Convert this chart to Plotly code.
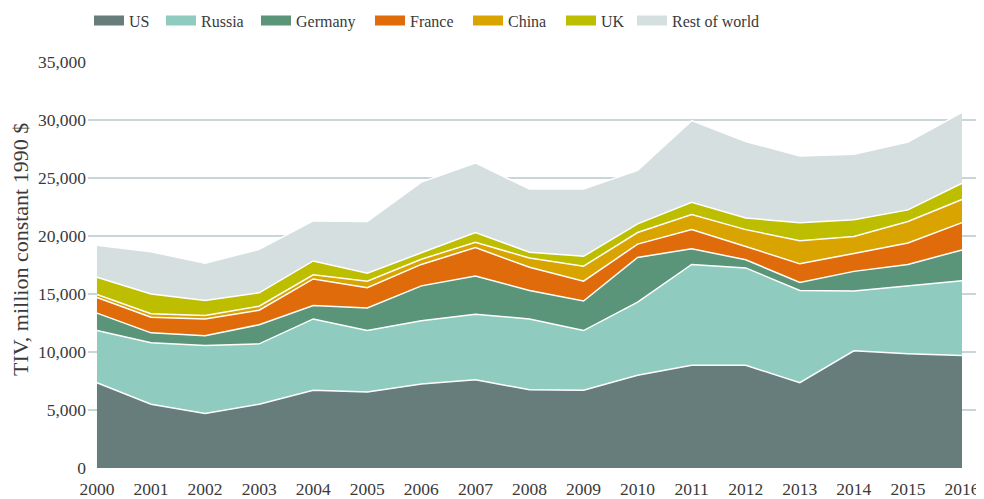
import plotly.graph_objects as go

years = list(range(2000, 2017))
us = [7350, 5500, 4700, 5500, 6700, 6550, 7250, 7600, 6750, 6700, 8000, 8850, 8850, 7350, 10100, 9850, 9700]
russia = [4500, 5300, 5850, 5200, 6150, 5300, 5450, 5650, 6100, 5150, 6300, 8700, 8400, 7950, 5150, 5850, 6450]
germany = [1500, 850, 850, 1650, 1150, 1950, 3000, 3300, 2450, 2550, 3850, 1350, 700, 700, 1700, 1850, 2650]
france = [1350, 1350, 1450, 1250, 2300, 1750, 1850, 2450, 2000, 1700, 1150, 1650, 1150, 1600, 1550, 1850, 2350]
china = [250, 300, 300, 350, 350, 550, 450, 450, 800, 1300, 1000, 1300, 1450, 2000, 1450, 1850, 2000]
uk = [1500, 1700, 1300, 1150, 1200, 700, 550, 850, 500, 850, 750, 1050, 1000, 1550, 1450, 1000, 1400]
rest = [2750, 3650, 3200, 3750, 3450, 4450, 6100, 6000, 5450, 5800, 4600, 7050, 6600, 5750, 5650, 5850, 6100]

series = [
    ("US", us, "#677d7b"),
    ("Russia", russia, "#8fcbbf"),
    ("Germany", germany, "#5a9479"),
    ("France", france, "#e06b0b"),
    ("China", china, "#d9a300"),
    ("UK", uk, "#bdbe00"),
    ("Rest of world", rest, "#d5dfdf"),
]
# left edge of each legend entry (figure pixels)
legend_x = [81, 153, 248, 362, 460, 553, 624]

W, H = 976, 491
FONT = "Liberation Serif"
TXT = "#3a3a3a"
fig = go.Figure()
for name, vals, col in series:
    fig.add_trace(go.Scatter(
        x=years, y=vals, name=name, mode="lines", stackgroup="one",
        line=dict(color="white", width=1.5), fillcolor=col,
        hoverinfo="skip", showlegend=False,
    ))

legends = {}
for i, ((name, vals, col), lx) in enumerate(zip(series, legend_x)):
    key = "legend" if i == 0 else f"legend{i + 1}"
    fig.add_trace(go.Scatter(
        x=[None], y=[None], name=name, mode="lines",
        line=dict(color=col, width=14),
        hoverinfo="skip", showlegend=True, legend=key,
    ))
    legends[key] = dict(orientation="h", xref="container", x=lx / W, xanchor="left",
                        yref="container", y=1 - 12.5 / H, yanchor="middle",
                        font=dict(family=FONT, size=16, color=TXT),
                        itemwidth=30, bgcolor="rgba(0,0,0,0)", borderwidth=0)

fig.update_layout(
    width=W, height=H,
    margin=dict(l=80, r=4, t=54, b=31, autoexpand=False),
    paper_bgcolor="white", plot_bgcolor="white",
    font=dict(family=FONT, size=17.5, color=TXT),
    showlegend=True,
    xaxis=dict(range=[1999.834, 2016.333], tickmode="array", tickvals=years,
               ticktext=[str(y) for y in years], showgrid=False, zeroline=False,
               showline=False, ticks="", automargin=False, ticklabelstandoff=8,
               tickfont=dict(family=FONT, size=17.5, color=TXT)),
    yaxis=dict(range=[0, 35000], tickmode="array", tickvals=list(range(0, 35001, 5000)),
               ticktext=["0", "5,000", "10,000", "15,000", "20,000", "25,000", "30,000", "35,000"],
               showgrid=True, gridcolor="#c9d5d7", gridwidth=1.5, zeroline=False,
               ticks="", ticklabelstandoff=1,
               automargin=False, tickfont=dict(family=FONT, size=17.5, color=TXT)),
    annotations=[dict(text="TIV, million constant 1990 $", textangle=-90,
                      xref="paper", yref="paper", x=-0.0751, y=0.537,
                      xanchor="center", yanchor="middle", showarrow=False,
                      font=dict(family=FONT, size=22, color=TXT))],
    **legends,
)
fig.write_html("out.html")
